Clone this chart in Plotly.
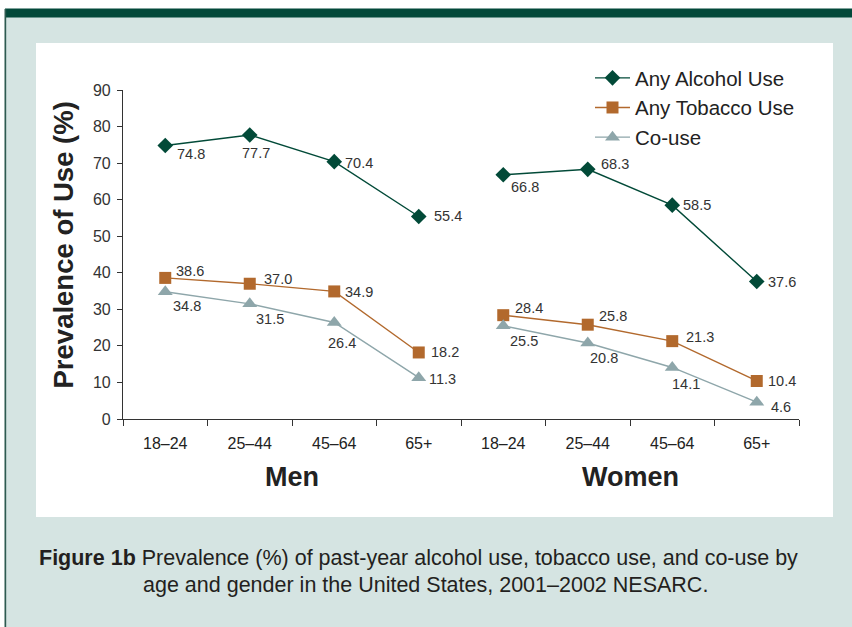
import plotly.graph_objects as go

ages = ["18–24", "25–44", "45–64", "65+"]
groups = ["Men", "Women"]
alcohol_men = [74.8, 77.7, 70.4, 55.4]
alcohol_women = [66.8, 68.3, 58.5, 37.6]
tobacco_men = [38.6, 37.0, 34.9, 18.2]
tobacco_women = [28.4, 25.8, 21.3, 10.4]
couse_men = [34.8, 31.5, 26.4, 11.3]
couse_women = [25.5, 20.8, 14.1, 4.6]
y_ticks = [0, 10, 20, 30, 40, 50, 60, 70, 80, 90]

# label offsets (pixels, dx right / dy down) for each point: style only
off_alc = [(26, 8), (6, 18), (25, 1), (29, 0), (22, 12), (27, -5), (25, 0), (25, 0)]
off_tob = [(25, -7), (28, -5), (25, 1), (26, 0), (26, -7), (25, -9), (28, -4), (25, 0)]
off_co = [(22, 14), (20, 15), (8, 21), (24, 1), (21, 15), (16, 15), (14, 17), (24, 5)]

W, H = 852, 627
L, R, T, B = 123, 53, 90, 208
PW, PH = W - L - R, H - T - B

def px(x):
    return (x - L) / PW

def py(y):
    return (H - B - y) / PH

FONT = "Liberation Sans, Arial, Helvetica, sans-serif"
C_ALC = "#024a38"
C_TOB = "#b2692d"
C_CO = "#8ea6aa"

x_men = [1, 2, 3, 4]
x_women = [5, 6, 7, 8]

series = [
    ("Any Alcohol Use", C_ALC, "diamond", 12, alcohol_men, alcohol_women, off_alc),
    ("Any Tobacco Use", C_TOB, "square", 12, tobacco_men, tobacco_women, off_tob),
    ("Co-use", C_CO, "triangle-up", 13, couse_men, couse_women, off_co),
]

fig = go.Figure()
annotations = []
for name, col, sym, size, ym, yw, offs in series:
    for xs, ys, show in ((x_men, ym, True), (x_women, yw, False)):
        fig.add_trace(go.Scatter(
            x=xs, y=ys, mode="lines+markers", name=name,
            legendgroup=name, showlegend=show,
            line=dict(color=col, width=1.4),
            marker=dict(symbol=sym, size=size, color=col, line=dict(width=0)),
            cliponaxis=False,
        ))
    for xv, yv, (dx, dy) in zip(x_men + x_women, ym + yw, offs):
        annotations.append(dict(
            text="%.1f" % yv, x=xv, y=yv, xref="x", yref="y", showarrow=False,
            xshift=dx, yshift=-dy, xanchor="center", yanchor="middle",
            font=dict(family=FONT, size=14.5, color="#333333")))

shapes = [
    dict(type="rect", xref="paper", yref="paper", x0=px(5), x1=px(W), y0=py(H), y1=py(17),
         fillcolor="#d5e4e2", line=dict(width=0), layer="below"),
    dict(type="rect", xref="paper", yref="paper", x0=px(5), x1=px(W), y0=py(17.5), y1=py(8.5),
         fillcolor="#03493a", line=dict(width=0), layer="below"),
    dict(type="rect", xref="paper", yref="paper", x0=px(4.5), x1=px(6.2), y0=py(H), y1=py(9),
         fillcolor="#2e5a50", line=dict(width=0), layer="below"),
    dict(type="rect", xref="paper", yref="paper", x0=px(36), x1=px(833), y0=py(517), y1=py(43),
         fillcolor="#ffffff", line=dict(width=0), layer="below"),
]

annotations += [
    dict(text="<b>Prevalence of Use (%)</b>", xref="paper", yref="paper",
         x=px(63), y=py(245.5), textangle=-90, showarrow=False,
         font=dict(family=FONT, size=27.5, color="#222222"), xanchor="center", yanchor="middle"),
    dict(text="<b>%s</b>" % groups[0], xref="x", yref="paper", x=2.5, y=py(477),
         showarrow=False, font=dict(family=FONT, size=27, color="#222222"),
         xanchor="center", yanchor="middle"),
    dict(text="<b>%s</b>" % groups[1], xref="x", yref="paper", x=6.5, y=py(477),
         showarrow=False, font=dict(family=FONT, size=27, color="#222222"),
         xanchor="center", yanchor="middle"),
    dict(text="<b>Figure 1b</b> Prevalence (%) of past-year alcohol use, tobacco use, and co-use by",
         xref="paper", yref="paper", x=px(37), y=py(558), showarrow=False,
         font=dict(family=FONT, size=21.5, color="#231f20"), xanchor="left", yanchor="middle"),
    dict(text="age and gender in the United States, 2001–2002 NESARC.",
         xref="paper", yref="paper", x=px(141), y=py(585), showarrow=False,
         font=dict(family=FONT, size=21.5, color="#231f20"), xanchor="left", yanchor="middle"),
]

fig.update_layout(
    width=W, height=H,
    margin=dict(l=L, r=R, t=T, b=B, autoexpand=False),
    paper_bgcolor="#ffffff", plot_bgcolor="rgba(0,0,0,0)",
    showlegend=True,
    legend=dict(x=px(590), y=py(58), xanchor="left", yanchor="top",
                bgcolor="rgba(0,0,0,0)", font=dict(family=FONT, size=20.5, color="#222222"),
                tracegroupgap=0, itemwidth=35),
    shapes=shapes, annotations=annotations,
    xaxis=dict(range=[0.5, 8.5], tickmode="array", tickvals=x_men + x_women,
               ticktext=ages + ages, ticks="", showgrid=False, zeroline=False,
               showline=True, linecolor="#333333", linewidth=1.2,
               tickfont=dict(family=FONT, size=16, color="#222222"),
               ticklabelstandoff=10,
               minor=dict(tickmode="array", tickvals=[0.5 + i for i in range(9)],
                          ticks="outside", ticklen=6, tickcolor="#333333", tickwidth=1.2,
                          showgrid=False),
               fixedrange=True),
    yaxis=dict(range=[0, 90], tickmode="array", tickvals=y_ticks, ticks="outside",
               ticklen=5, tickcolor="#333333", tickwidth=1.2, showgrid=False,
               zeroline=False, showline=True, linecolor="#333333", linewidth=1.2,
               tickfont=dict(family=FONT, size=16, color="#333333"),
               ticklabelstandoff=3,
               fixedrange=True),
)

fig.write_html("out.html", config={"displayModeBar": False},
               post_script="document.body.style.margin='0';document.body.style.padding='0';")
